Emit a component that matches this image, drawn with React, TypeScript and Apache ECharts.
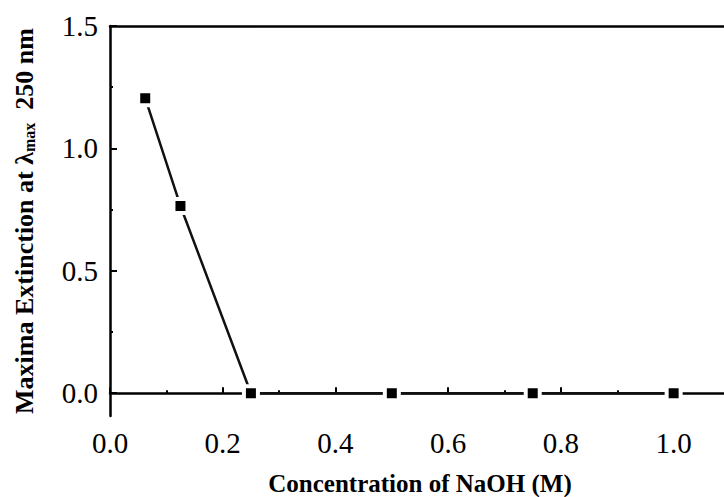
import React, { useEffect, useRef } from "react";
import * as echarts from "echarts";

const xValues = [0.0625, 0.125, 0.25, 0.5, 0.75, 1.0];
const yValues = [1.205, 0.765, 0, 0, 0, 0];
const xMajorTicks = [0, 0.2, 0.4, 0.6, 0.8, 1.0];
const xMinorTicks = [0.1, 0.3, 0.5, 0.7, 0.9];
const yMajorTicks = [0, 0.5, 1.0, 1.5];
const yMinorTicks = [0.25, 0.75, 1.25];
const xTitle = "Concentration of NaOH (M)";
const yTitle = "Maxima Extinction at λ{sub|max}  250 nm";

const FONT = "'Liberation Serif', 'Times New Roman', serif";
const X_MIN = 0;
const X_MAX = 1.1;
const Y_MIN = -0.093;
const Y_MAX = 1.5;

export default function App() {
  const ref = useRef<HTMLDivElement>(null);
  useEffect(() => {
    if (!ref.current) return;
    const chart = echarts.init(ref.current, null, { renderer: "svg" });
    const lineStyle = { color: "#000", width: 2.5 };
    const labelStyle = {
      color: "#000",
      fontFamily: FONT,
      fontSize: 29,
      margin: 12,
      formatter: (v: number) => v.toFixed(1),
    };
    chart.setOption({
      animation: false,
      backgroundColor: "#fff",
      grid: { left: 110, right: -6, top: 26, bottom: 81, containLabel: false, outerBoundsMode: "none" },
      xAxis: [
        {
          type: "value",
          min: X_MIN,
          max: X_MAX,
          position: "bottom",
          axisLine: { show: true, lineStyle },
          axisTick: { show: true, inside: true, length: 6, customValues: xMajorTicks, lineStyle: { color: "#000", width: 2 } },
          axisLabel: { ...labelStyle, customValues: xMajorTicks },
          splitLine: { show: false },
          name: xTitle,
          nameLocation: "middle",
          nameGap: 54,
          nameTextStyle: { color: "#000", fontFamily: FONT, fontSize: 25, fontWeight: "bold", lineHeight: 26 },
        },
        {
          type: "value",
          min: X_MIN,
          max: X_MAX,
          position: "bottom",
          axisLine: { show: false },
          axisTick: { show: true, inside: true, length: 3, customValues: xMinorTicks, lineStyle: { color: "#000", width: 2 } },
          axisLabel: { show: false },
          splitLine: { show: false },
        },
        {
          type: "value",
          min: X_MIN,
          max: X_MAX,
          position: "top",
          axisLine: { show: true, lineStyle },
          axisTick: { show: false },
          axisLabel: { show: false },
          splitLine: { show: false },
        },
      ],
      yAxis: [
        {
          type: "value",
          min: Y_MIN,
          max: Y_MAX,
          position: "left",
          axisLine: { show: true, lineStyle },
          axisTick: { show: true, inside: true, length: 7, customValues: yMajorTicks, lineStyle: { color: "#000", width: 2 } },
          axisLabel: { ...labelStyle, customValues: yMajorTicks },
          splitLine: { show: false },
          name: yTitle,
          nameLocation: "middle",
          nameRotate: 90,
          nameGap: 73,
          nameTextStyle: {
            color: "#000",
            fontFamily: FONT,
            fontSize: 26,
            fontWeight: "bold",
            rich: {
              sub: {
                fontFamily: FONT,
                fontSize: 16,
                fontWeight: "bold",
                color: "#000",
                verticalAlign: "bottom",
                padding: [10, 0, 0, 0],
              },
            },
          },
        },
        {
          type: "value",
          min: Y_MIN,
          max: Y_MAX,
          position: "left",
          axisLine: { show: false },
          axisTick: { show: true, inside: true, length: 3, customValues: yMinorTicks, lineStyle: { color: "#000", width: 2 } },
          axisLabel: { show: false },
          splitLine: { show: false },
        },
      ],
      series: [
        {
          type: "line",
          xAxisIndex: 0,
          yAxisIndex: 0,
          data: xValues.map((x, i) => [x, yValues[i]]),
          symbol: "rect",
          symbolSize: 14,
          itemStyle: { color: "#000", borderColor: "#fff", borderWidth: 4 },
          lineStyle: { color: "#111", width: 2.5 },
          z: 3,
        },
      ],
    });
    return () => chart.dispose();
  }, []);
  return <div ref={ref} style={{ width: 724, height: 497, position: "absolute", left: 0, top: 0 }} />;
}
